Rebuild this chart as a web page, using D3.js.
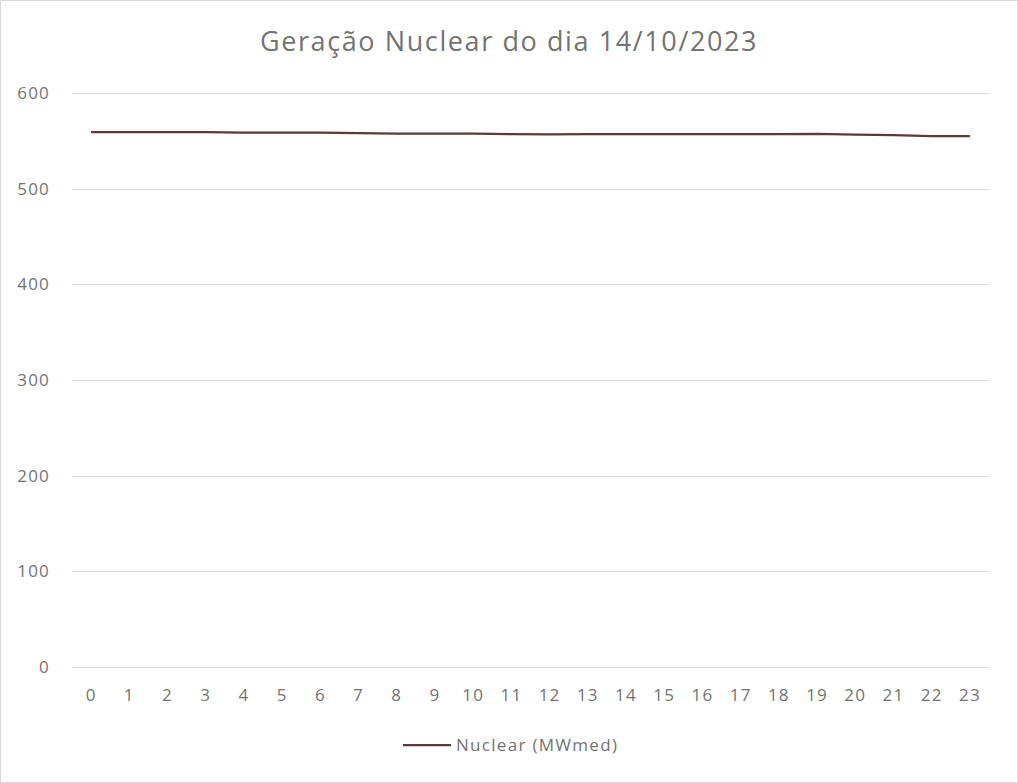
<!DOCTYPE html>
<html>
<head>
<meta charset="utf-8">
<script src="https://cdn.jsdelivr.net/npm/d3@7"></script>
<style>
  body { margin: 0; background: #fff; }
  text { font-family: "Open Sans", "Noto Sans", sans-serif; fill: #737373; }
</style>
</head>
<body>
<div id="chart"></div>
<script>
var width = 1018,
  height = 783;

var hours = d3.range(24);
// MWmed per hour
var nuclear = [559, 559, 559, 559, 558.5, 558.5, 558.5, 558, 557.5, 557.5, 557.5, 557,
  556.8, 557, 557, 557, 557, 557, 557, 557.3, 556.5, 556, 555, 554.8];
var yTicks = [0, 100, 200, 300, 400, 500, 600];

var margin = { left: 72, right: 29, top: 93, bottom: 116 };

var svg = d3.select("#chart").append("svg")
  .attr("width", width)
  .attr("height", height);

// chart border
svg.append("rect")
  .attr("x", 0.5).attr("y", 0.5)
  .attr("width", width - 1).attr("height", height - 1)
  .attr("fill", "#fff")
  .attr("stroke", "#d9d9d9");

var x = d3.scalePoint()
  .domain(hours)
  .range([margin.left, width - margin.right])
  .padding(0.5);

var y = d3.scaleLinear()
  .domain([0, 600])
  .range([height - margin.bottom, margin.top]);

// gridlines
svg.append("g")
  .selectAll("line")
  .data(yTicks)
  .enter().append("line")
  .attr("x1", margin.left)
  .attr("x2", width - margin.right)
  .attr("y1", function(d) { return Math.round(y(d)) + 0.5; })
  .attr("y2", function(d) { return Math.round(y(d)) + 0.5; })
  .attr("stroke", "#d9d9d9")
  .attr("stroke-width", 1);

// y labels
svg.append("g")
  .selectAll("text")
  .data(yTicks)
  .enter().append("text")
  .attr("x", 50)
  .attr("y", function(d) { return y(d); })
  .attr("dy", "0.35em")
  .attr("text-anchor", "end")
  .style("font-size", "17px")
  .style("letter-spacing", "1.2px")
  .text(function(d) { return d; });

// x labels
svg.append("g")
  .selectAll("text")
  .data(hours)
  .enter().append("text")
  .attr("x", function(d) { return x(d); })
  .attr("y", 695)
  .attr("dy", "0.35em")
  .attr("text-anchor", "middle")
  .style("font-size", "17px")
  .style("letter-spacing", "1.2px")
  .text(function(d) { return d; });

// line
var line = d3.line()
  .x(function(d, i) { return x(hours[i]); })
  .y(function(d) { return y(d); });

svg.append("path")
  .datum(nuclear)
  .attr("d", line)
  .attr("fill", "none")
  .attr("stroke", "#5e3a35")
  .attr("stroke-width", 2.25)
  .attr("stroke-linejoin", "round");

// title
svg.append("text")
  .attr("x", width / 2)
  .attr("y", 51)
  .attr("text-anchor", "middle")
  .style("font-size", "27px")
  .style("letter-spacing", "1.6px")
  .text("Geração Nuclear do dia 14/10/2023");

// legend
var legend = svg.append("g").attr("transform", "translate(403, 745)");
legend.append("line")
  .attr("x1", 0).attr("x2", 48)
  .attr("y1", 0).attr("y2", 0)
  .attr("stroke", "#5e3a35")
  .attr("stroke-width", 2.25);
legend.append("text")
  .attr("x", 53)
  .attr("y", 0)
  .attr("dy", "0.35em")
  .style("font-size", "17px")
  .style("letter-spacing", "1.3px")
  .text("Nuclear (MWmed)");
</script>
</body>
</html>
